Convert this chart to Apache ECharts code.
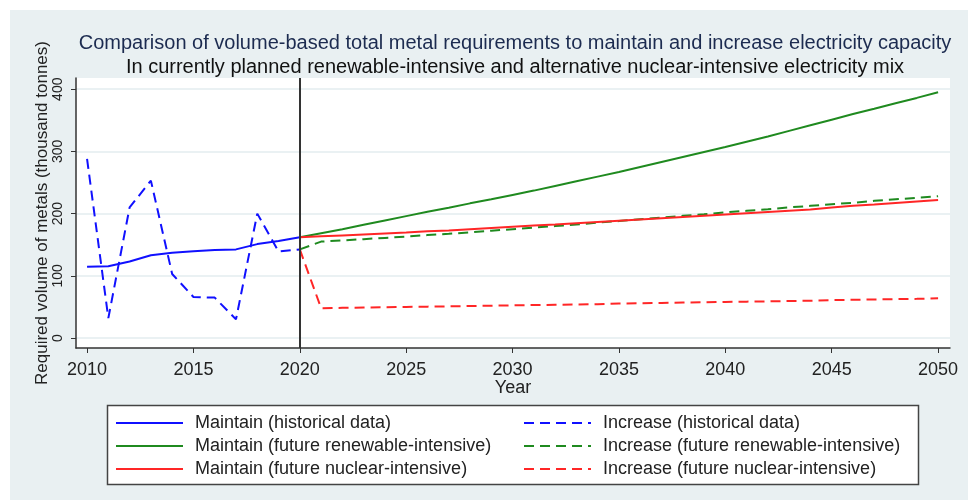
<!DOCTYPE html>
<html>
<head>
<meta charset="utf-8">
<script src="https://cdn.jsdelivr.net/npm/echarts@6/dist/echarts.min.js"></script>
<style>
  html, body { margin: 0; padding: 0; background: #ffffff; }
  #chart { width: 968px; height: 500px; }
</style>
</head>
<body>
<div id="chart"></div>
<script>
// Historical period (annual values, thousand tonnes)
const histYears = [2010, 2011, 2012, 2013, 2014, 2015, 2016, 2017, 2018, 2019, 2020];
const maintainHist = [114.5, 115.5, 123, 133, 137, 139.5, 141.5, 142.5, 151, 156, 162];
const increaseHist = [288, 32, 210, 253, 103, 66, 65, 30, 200, 139, 142.5];

// Projection period
const futureYears = [2020, 2021, 2022, 2023, 2024, 2025, 2026, 2027, 2028, 2029, 2030,
  2031, 2032, 2033, 2034, 2035, 2036, 2037, 2038, 2039, 2040,
  2041, 2042, 2043, 2044, 2045, 2046, 2047, 2048, 2049, 2050];
const maintainRenew = [162, 168.5, 175, 182, 189, 196, 203, 209.5, 216.5, 223, 230,
  237, 244.5, 252, 259.5, 267, 275, 283, 291, 299, 307,
  315.5, 324, 333, 342, 351, 360, 368.5, 377.5, 386, 395];
const increaseRenew = [142.5, 155, 157, 159, 161, 163, 165.5, 167.5, 170, 172.5, 175,
  177.5, 180, 182.5, 185.5, 188, 191, 193.5, 196.5, 199, 202,
  204.5, 207, 210, 212.5, 215, 217.5, 220.5, 223, 225.5, 228];
const maintainNuclear = [162, 163.5, 165, 166.5, 168, 169.5, 171.5, 173, 175, 177, 179,
  181, 182.5, 184.5, 186.5, 188.5, 190.5, 192.5, 194.5, 196.5, 198.5,
  200.5, 202.5, 204.5, 206.5, 210, 212.5, 214.5, 217, 219.5, 222];
const increaseNuclear = [142.5, 48, 48.5, 49, 49.5, 50, 50.5, 51, 51.5, 52, 52.5,
  53, 53.5, 54, 54.5, 55.5, 56, 56.5, 57, 57.5, 58,
  58.5, 59, 59.5, 60, 61, 61.5, 62, 62.5, 63, 64];

const xTicks = [2010, 2015, 2020, 2025, 2030, 2035, 2040, 2045, 2050];
const yTicks = [0, 100, 200, 300, 400];

const titleMain = 'Comparison of volume-based total metal requirements to maintain and increase electricity capacity';
const titleSub = 'In currently planned renewable-intensive and alternative nuclear-intensive electricity mix';
const yName = 'Required volume of metals (thousand tonnes)';
const xName = 'Year';

const names = [
  'Maintain (historical data)', 'Increase (historical data)',
  'Maintain (future renewable-intensive)', 'Increase (future renewable-intensive)',
  'Maintain (future nuclear-intensive)', 'Increase (future nuclear-intensive)'
];

const BLUE = '#1010ff', GREEN = '#1f8a1f', RED = '#ff2626';
const FONT = 'Liberation Sans, Arial, sans-serif';
const DASH = [10, 6];

function pairs(xs, ys) { return xs.map((x, i) => [x, ys[i]]); }

function lineSeries(name, xs, ys, color, dashed) {
  return {
    name: name,
    type: 'line',
    data: pairs(xs, ys),
    symbol: 'none',
    lineStyle: { color: color, width: 2, type: dashed ? DASH : 'solid' },
    itemStyle: { color: color },
    z: 3
  };
}

const series = [
  lineSeries(names[0], histYears, maintainHist, BLUE, false),
  lineSeries(names[1], histYears, increaseHist, BLUE, true),
  lineSeries(names[2], futureYears, maintainRenew, GREEN, false),
  lineSeries(names[3], futureYears, increaseRenew, GREEN, true),
  lineSeries(names[4], futureYears, maintainNuclear, RED, false),
  lineSeries(names[5], futureYears, increaseNuclear, RED, true)
];

// Reference line marking the start of the projection period
series[0].markLine = {
  silent: true,
  symbol: 'none',
  label: { show: false },
  lineStyle: { color: '#333333', width: 2, type: 'solid' },
  data: [{ xAxis: 2020 }],
  z: 4
};

const legendText = {
  fontFamily: FONT, fontSize: 18, lineHeight: 18, color: '#222222',
  padding: [0, 0, 0, 7]
};
function legendColumn(items, left) {
  return {
    orient: 'vertical',
    left: left,
    top: 409,
    itemWidth: 67,
    itemHeight: 14,
    itemGap: 5,
    itemStyle: { opacity: 0 },
    textStyle: legendText,
    data: items,
    selectedMode: false
  };
}

const chart = echarts.init(document.getElementById('chart'), null, { renderer: 'canvas' });
chart.setOption({
  animation: false,
  backgroundColor: '#ffffff',
  title: [
    {
      text: titleMain, left: 510, top: 28, textAlign: 'center',
      textStyle: { fontFamily: FONT, fontSize: 20, fontWeight: 'normal', color: '#1c2b50' }
    },
    {
      text: titleSub, left: 510, top: 52, textAlign: 'center',
      textStyle: { fontFamily: FONT, fontSize: 20, fontWeight: 'normal', color: '#111111' }
    }
  ],
  graphic: [
    {
      type: 'rect', silent: true, z: -100,
      shape: { x: 10, y: 10, width: 958, height: 490 },
      style: { fill: '#e9f0f2' }
    },
    {
      type: 'rect', silent: true, z: -50,
      shape: { x: 107.5, y: 405.5, width: 811, height: 79 },
      style: { fill: '#ffffff', stroke: '#444444', lineWidth: 1.5 }
    }
  ],
  legend: [
    legendColumn([names[0], names[2], names[4]], 110),
    legendColumn([names[1], names[3], names[5]], 518)
  ],
  grid: {
    left: 76, right: 18, top: 78, bottom: 152,
    show: true, backgroundColor: '#ffffff', borderWidth: 0
  },
  xAxis: {
    type: 'value',
    min: 2009.48,
    max: 2050.56,
    name: xName,
    nameLocation: 'middle',
    nameGap: 31,
    nameMoveOverlap: false,
    nameTextStyle: { fontFamily: FONT, fontSize: 18, color: '#222222' },
    axisLine: { show: true, onZero: false, lineStyle: { color: '#333333', width: 1.5 } },
    axisTick: { show: true, length: 5, customValues: xTicks, lineStyle: { color: '#333333' } },
    axisLabel: {
      customValues: xTicks, margin: 13,
      fontFamily: FONT, fontSize: 18, color: '#222222',
      formatter: v => String(v)
    },
    splitLine: { show: false }
  },
  yAxis: {
    type: 'value',
    min: -16,
    max: 418,
    name: yName,
    nameLocation: 'middle',
    nameRotate: 90,
    nameGap: 25,
    nameMoveOverlap: false,
    nameTextStyle: { fontFamily: FONT, fontSize: 17, color: '#222222' },
    axisLine: { show: true, onZero: false, lineStyle: { color: '#333333', width: 1.5 } },
    axisTick: { show: true, length: 5, customValues: yTicks, lineStyle: { color: '#333333' } },
    axisLabel: {
      customValues: yTicks, rotate: 90, margin: 11,
      fontFamily: FONT, fontSize: 14, color: '#222222',
      formatter: v => String(v)
    },
    splitLine: { show: true, lineStyle: { color: '#eaf1f3', width: 2 } }
  },
  series: series
});
</script>
</body>
</html>
